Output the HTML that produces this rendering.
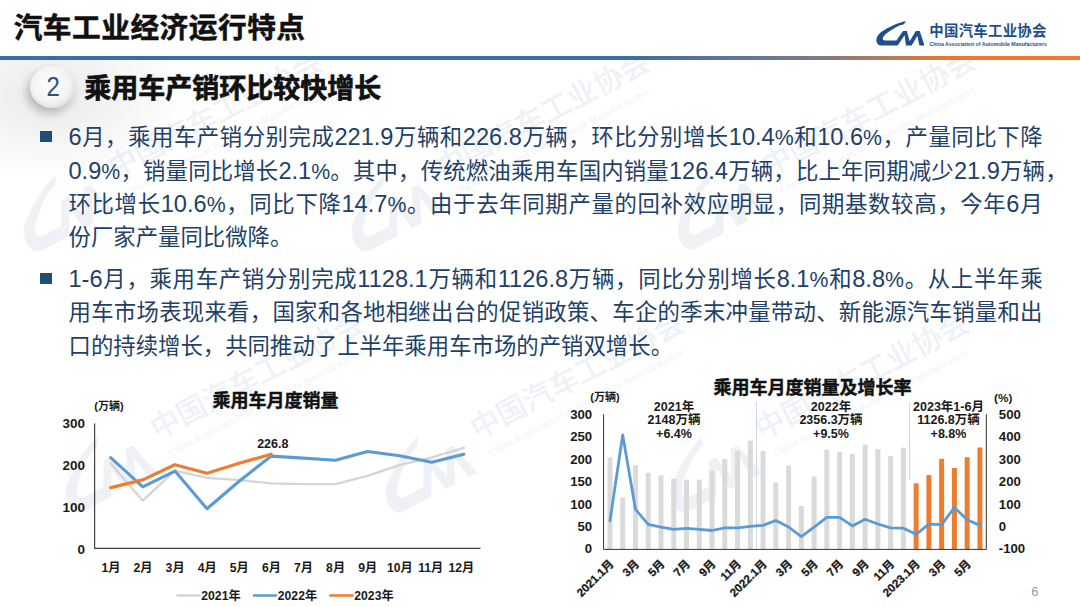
<!DOCTYPE html>
<html lang="zh-CN">
<head>
<meta charset="utf-8">
<title>汽车工业经济运行特点</title>
<style>
html,body{margin:0;padding:0;background:#fff;}
body{width:1080px;height:607px;overflow:hidden;position:relative;font-family:"Liberation Sans", "Noto Sans CJK SC", sans-serif;}
#slide{position:absolute;left:0;top:0;width:1080px;height:607px;overflow:hidden;background:#fff;}
.title{position:absolute;left:13.7px;top:7.4px;font-size:28.7px;font-weight:700;color:#111;line-height:42px;white-space:nowrap;letter-spacing:.5px;-webkit-text-stroke:.5px #111;}
.rule{position:absolute;left:0;top:56.3px;width:1080px;height:3.5px;background:linear-gradient(90deg,#3a6ea8 0%,#3a6ea8 58%,#7c7c84 76%,#e87a2e 88%,#ee7d2c 100%);}
.shade{position:absolute;left:-40px;top:60px;width:230px;height:120px;background:radial-gradient(ellipse at 40% 30%,rgba(120,120,120,.16),rgba(255,255,255,0) 70%);}
.ball{position:absolute;left:29.8px;top:66px;width:45px;height:42.4px;border-radius:50%;background:radial-gradient(ellipse at 46% 42%,#fefefe 0%,#f5f5f5 48%,#e9e9e9 82%,#dadada 100%);box-shadow:-3px 5px 10px rgba(0,0,0,.24), inset -1px -2px 4px rgba(0,0,0,.07);}
.ball span{position:absolute;left:-.3px;top:-1.2px;width:46.4px;height:42.4px;line-height:42.4px;text-align:center;font-size:28.5px;color:#2f5080;font-weight:400;transform:scaleX(.84);transform-origin:50% 50%;}
.sub{position:absolute;left:84.2px;top:70.2px;-webkit-text-stroke:.7px #111;font-size:27px;font-weight:700;color:#111;line-height:38px;white-space:nowrap;}
.bul{position:absolute;left:40px;width:12px;height:11px;background:#1f4e79;}
.ln{position:absolute;left:68.5px;width:974px;height:34px;line-height:34px;font-size:22.4px;color:#223f67;white-space:nowrap;text-align:justify;text-align-last:justify;}
.ln .n{font-size:23.6px;letter-spacing:0;}
.ln .n i{font-style:normal;font-size:21.3px;}
.ln.last{width:auto;text-align:left;text-align-last:left;}
.logo{position:absolute;left:875.5px;top:21px;width:48.5px;height:25px;}
.logo svg{width:100%;height:100%;display:block;}
.lcn{position:absolute;left:929.3px;top:21.2px;letter-spacing:.28px;font-size:14.4px;font-weight:700;color:#1f4e8c;line-height:20px;white-space:nowrap;}
.len{position:absolute;left:929.5px;top:40.5px;font-size:5.15px;font-weight:700;color:#1f4e8c;line-height:7px;white-space:nowrap;transform-origin:0 0;}
.wm{position:absolute;width:360px;height:60px;transform:rotate(-27.8deg);transform-origin:123.8px 20.2px;opacity:.125;color:#7f97bd;white-space:nowrap;}
.wmbox{position:absolute;left:0;top:60px;width:1080px;height:547px;overflow:hidden;}
.wml{position:absolute;left:1px;top:1px;width:94px;height:61px;}
.wml svg{width:100%;height:100%;display:block;}
.wmt b{position:absolute;left:110px;top:3.5px;font-size:29.6px;line-height:36px;font-weight:500;}
.wmt i{position:absolute;left:114px;top:43px;font-style:normal;font-size:9.6px;line-height:14px;font-weight:700;opacity:.7;}
.charts{position:absolute;left:0;top:0;}
.pg{position:absolute;left:1031.3px;top:584.2px;font-size:13px;color:#9a9a9a;line-height:16px;}
</style>
</head>
<body>
<div id="slide">
<div class="shade"></div>
<div class="wmbox"><div class="wm" style="left:-1.8px;top:81.8px"><span class="wml"><svg viewBox="0 0 100 50" preserveAspectRatio="none"><path fill="#8595ad" d="M61.5 0 C47 3.2 27 11.2 10 22.7 C3 28 -1 36 1.5 42.5 C3 46.5 6 49 10 49 L44.7 49 L59 28.7 L61.7 49 L73.5 49 L85.4 29.4 L89.4 49 L100 49 L90.1 19.9 L82 19.9 L69.4 40.6 L63.7 19.9 L55.6 19.9 L42 38.9 L19 38.9 C15 38.9 13 36.5 14.5 33.5 C17 27.5 25 21.5 42 12 C48 9 53 7.6 57.6 6.6 Z"/></svg></span><span class="wmt"><b>中国汽车工业协会</b><i>China Association of Automobile Manufacturers</i></span></div><div class="wm" style="left:326.2px;top:81.8px"><span class="wml"><svg viewBox="0 0 100 50" preserveAspectRatio="none"><path fill="#8595ad" d="M61.5 0 C47 3.2 27 11.2 10 22.7 C3 28 -1 36 1.5 42.5 C3 46.5 6 49 10 49 L44.7 49 L59 28.7 L61.7 49 L73.5 49 L85.4 29.4 L89.4 49 L100 49 L90.1 19.9 L82 19.9 L69.4 40.6 L63.7 19.9 L55.6 19.9 L42 38.9 L19 38.9 C15 38.9 13 36.5 14.5 33.5 C17 27.5 25 21.5 42 12 C48 9 53 7.6 57.6 6.6 Z"/></svg></span><span class="wmt"><b>中国汽车工业协会</b><i>China Association of Automobile Manufacturers</i></span></div><div class="wm" style="left:652.2px;top:79.8px"><span class="wml"><svg viewBox="0 0 100 50" preserveAspectRatio="none"><path fill="#8595ad" d="M61.5 0 C47 3.2 27 11.2 10 22.7 C3 28 -1 36 1.5 42.5 C3 46.5 6 49 10 49 L44.7 49 L59 28.7 L61.7 49 L73.5 49 L85.4 29.4 L89.4 49 L100 49 L90.1 19.9 L82 19.9 L69.4 40.6 L63.7 19.9 L55.6 19.9 L42 38.9 L19 38.9 C15 38.9 13 36.5 14.5 33.5 C17 27.5 25 21.5 42 12 C48 9 53 7.6 57.6 6.6 Z"/></svg></span><span class="wmt"><b>中国汽车工业协会</b><i>China Association of Automobile Manufacturers</i></span></div><div class="wm" style="left:40.2px;top:343.3px"><span class="wml"><svg viewBox="0 0 100 50" preserveAspectRatio="none"><path fill="#8595ad" d="M61.5 0 C47 3.2 27 11.2 10 22.7 C3 28 -1 36 1.5 42.5 C3 46.5 6 49 10 49 L44.7 49 L59 28.7 L61.7 49 L73.5 49 L85.4 29.4 L89.4 49 L100 49 L90.1 19.9 L82 19.9 L69.4 40.6 L63.7 19.9 L55.6 19.9 L42 38.9 L19 38.9 C15 38.9 13 36.5 14.5 33.5 C17 27.5 25 21.5 42 12 C48 9 53 7.6 57.6 6.6 Z"/></svg></span><span class="wmt"><b>中国汽车工业协会</b><i>China Association of Automobile Manufacturers</i></span></div><div class="wm" style="left:360.2px;top:343.3px"><span class="wml"><svg viewBox="0 0 100 50" preserveAspectRatio="none"><path fill="#8595ad" d="M61.5 0 C47 3.2 27 11.2 10 22.7 C3 28 -1 36 1.5 42.5 C3 46.5 6 49 10 49 L44.7 49 L59 28.7 L61.7 49 L73.5 49 L85.4 29.4 L89.4 49 L100 49 L90.1 19.9 L82 19.9 L69.4 40.6 L63.7 19.9 L55.6 19.9 L42 38.9 L19 38.9 C15 38.9 13 36.5 14.5 33.5 C17 27.5 25 21.5 42 12 C48 9 53 7.6 57.6 6.6 Z"/></svg></span><span class="wmt"><b>中国汽车工业协会</b><i>China Association of Automobile Manufacturers</i></span></div><div class="wm" style="left:645.2px;top:343.3px"><span class="wml"><svg viewBox="0 0 100 50" preserveAspectRatio="none"><path fill="#8595ad" d="M61.5 0 C47 3.2 27 11.2 10 22.7 C3 28 -1 36 1.5 42.5 C3 46.5 6 49 10 49 L44.7 49 L59 28.7 L61.7 49 L73.5 49 L85.4 29.4 L89.4 49 L100 49 L90.1 19.9 L82 19.9 L69.4 40.6 L63.7 19.9 L55.6 19.9 L42 38.9 L19 38.9 C15 38.9 13 36.5 14.5 33.5 C17 27.5 25 21.5 42 12 C48 9 53 7.6 57.6 6.6 Z"/></svg></span><span class="wmt"><b>中国汽车工业协会</b><i>China Association of Automobile Manufacturers</i></span></div></div>
<div class="title">汽车工业经济运行特点</div>
<div class="rule"></div>
<div class="logo"><svg viewBox="0 0 100 50" preserveAspectRatio="none"><path fill="#1f4e8c" d="M61.5 0 C47 3.2 27 11.2 10 22.7 C3 28 -1 36 1.5 42.5 C3 46.5 6 49 10 49 L44.7 49 L59 28.7 L61.7 49 L73.5 49 L85.4 29.4 L89.4 49 L100 49 L90.1 19.9 L82 19.9 L69.4 40.6 L63.7 19.9 L55.6 19.9 L42 38.9 L19 38.9 C15 38.9 13 36.5 14.5 33.5 C17 27.5 25 21.5 42 12 C48 9 53 7.6 57.6 6.6 Z"/></svg></div>
<div class="lcn">中国汽车工业协会</div>
<div class="len">China Association of Automobile Manufacturers</div>
<div class="ball"><span>2</span></div>
<div class="sub">乘用车产销环比较快增长</div>
<div class="bul" style="top:131px"></div>
<div class="ln" style="top:119.9px"><span class="n">6</span>月，乘用车产销分别完成<span class="n">221.9</span>万辆和<span class="n">226.8</span>万辆，环比分别增长<span class="n">10.4<i>%</i></span>和<span class="n">10.6<i>%</i></span>，产量同比下降</div>
<div class="ln" style="top:153.6px;width:999px"><span class="n">0.9<i>%</i></span>，销量同比增长<span class="n">2.1<i>%</i></span>。其中，传统燃油乘用车国内销量<span class="n">126.4</span>万辆，比上年同期减少<span class="n">21.9</span>万辆，</div>
<div class="ln" style="top:187.4px">环比增长<span class="n">10.6<i>%</i></span>，同比下降<span class="n">14.7<i>%</i></span>。由于去年同期产量的回补效应明显，同期基数较高，今年<span class="n">6</span>月</div>
<div class="ln last" style="top:220.9px">份厂家产量同比微降。</div>
<div class="bul" style="top:273px"></div>
<div class="ln" style="top:262.4px"><span class="n">1-6</span>月，乘用车产销分别完成<span class="n">1128.1</span>万辆和<span class="n">1126.8</span>万辆，同比分别增长<span class="n">8.1<i>%</i></span>和<span class="n">8.8<i>%</i></span>。从上半年乘</div>
<div class="ln" style="top:296.3px">用车市场表现来看，国家和各地相继出台的促销政策、车企的季末冲量带动、新能源汽车销量和出</div>
<div class="ln last" style="top:329.7px">口的持续增长，共同推动了上半年乘用车市场的产销双增长。</div>
<svg class="charts" width="1080" height="607" viewBox="0 0 1080 607" font-family='&quot;Liberation Sans&quot;, &quot;Noto Sans CJK SC&quot;, sans-serif' font-weight="700" fill="#1a1a1a">
<polyline points="110.7,463.5 142.8,500.7 174.9,470.7 207.0,477.8 239.1,480.2 271.2,483.4 303.3,484.2 335.4,484.1 367.5,475.8 399.6,465.1 431.7,457.4 463.8,447.8" fill="none" stroke="#d5d5d5" stroke-width="2.3" stroke-linejoin="round" stroke-linecap="round"/>
<polyline points="110.7,457.6 142.8,486.8 174.9,471.1 207.0,508.7 239.1,481.2 271.2,456.1 303.3,458.1 335.4,460.2 367.5,451.5 399.6,455.7 431.7,462.3 463.8,454.3" fill="none" stroke="#5b9bd5" stroke-width="3.1" stroke-linejoin="round" stroke-linecap="round"/>
<polyline points="110.7,487.6 142.8,479.9 174.9,464.7 207.0,473.3 239.1,463.3 271.2,454.2" fill="none" stroke="#ed7d31" stroke-width="3.2" stroke-linejoin="round" stroke-linecap="round"/>
<path d="M94.6 423.6 V548.4 H480.5" fill="none" stroke="#404040" stroke-width="1.2"/>
<text x="85" y="553.8" font-size="13.5" text-anchor="end">0</text>
<text x="85" y="512.0" font-size="13.5" text-anchor="end">100</text>
<text x="85" y="470.2" font-size="13.5" text-anchor="end">200</text>
<text x="85" y="428.4" font-size="13.5" text-anchor="end">300</text>
<text x="110.9" y="571.6" font-size="12.2" text-anchor="middle">1月</text>
<text x="143.0" y="571.6" font-size="12.2" text-anchor="middle">2月</text>
<text x="175.1" y="571.6" font-size="12.2" text-anchor="middle">3月</text>
<text x="207.2" y="571.6" font-size="12.2" text-anchor="middle">4月</text>
<text x="239.3" y="571.6" font-size="12.2" text-anchor="middle">5月</text>
<text x="271.4" y="571.6" font-size="12.2" text-anchor="middle">6月</text>
<text x="303.5" y="571.6" font-size="12.2" text-anchor="middle">7月</text>
<text x="335.6" y="571.6" font-size="12.2" text-anchor="middle">8月</text>
<text x="367.7" y="571.6" font-size="12.2" text-anchor="middle">9月</text>
<text x="399.8" y="571.6" font-size="12.2" text-anchor="middle">10月</text>
<text x="430.7" y="571.6" font-size="12.2" text-anchor="middle">11月</text>
<text x="461.3" y="571.6" font-size="12.2" text-anchor="middle">12月</text>
<text x="109" y="410" font-size="11" text-anchor="middle">(万辆)</text>
<text x="275.6" y="406.5" font-size="18" text-anchor="middle" fill="#111" stroke="#111" stroke-width=".45">乘用车月度销量</text>
<text x="272.8" y="447.8" font-size="12.5" text-anchor="middle">226.8</text>
<line x1="177.5" y1="595.5" x2="199.5" y2="595.5" stroke="#d4d4d4" stroke-width="2.6" stroke-linecap="round"/>
<text x="201.3" y="600" font-size="12.2">2021年</text>
<line x1="254.0" y1="595.5" x2="276.0" y2="595.5" stroke="#5b9bd5" stroke-width="2.6" stroke-linecap="round"/>
<text x="277.8" y="600" font-size="12.2">2022年</text>
<line x1="330.5" y1="595.5" x2="352.5" y2="595.5" stroke="#ed7d31" stroke-width="2.6" stroke-linecap="round"/>
<text x="354.3" y="600" font-size="12.2">2023年</text>
<rect x="607.48" y="457.52" width="5" height="91.68" fill="#dadada"/>
<rect x="620.24" y="497.37" width="5" height="51.83" fill="#dadada"/>
<rect x="632.99" y="465.18" width="5" height="84.02" fill="#dadada"/>
<rect x="645.75" y="472.80" width="5" height="76.40" fill="#dadada"/>
<rect x="658.50" y="475.40" width="5" height="73.80" fill="#dadada"/>
<rect x="671.26" y="478.86" width="5" height="70.34" fill="#dadada"/>
<rect x="684.02" y="479.66" width="5" height="69.54" fill="#dadada"/>
<rect x="696.77" y="479.62" width="5" height="69.58" fill="#dadada"/>
<rect x="709.53" y="470.70" width="5" height="78.50" fill="#dadada"/>
<rect x="722.29" y="459.22" width="5" height="89.98" fill="#dadada"/>
<rect x="735.04" y="450.93" width="5" height="98.27" fill="#dadada"/>
<rect x="747.80" y="440.61" width="5" height="108.59" fill="#dadada"/>
<rect x="760.56" y="451.19" width="5" height="98.01" fill="#dadada"/>
<rect x="773.32" y="482.53" width="5" height="66.67" fill="#dadada"/>
<rect x="786.07" y="465.63" width="5" height="83.57" fill="#dadada"/>
<rect x="798.83" y="505.94" width="5" height="43.26" fill="#dadada"/>
<rect x="811.59" y="476.44" width="5" height="72.76" fill="#dadada"/>
<rect x="824.34" y="449.58" width="5" height="99.62" fill="#dadada"/>
<rect x="837.10" y="451.73" width="5" height="97.47" fill="#dadada"/>
<rect x="849.86" y="453.93" width="5" height="95.27" fill="#dadada"/>
<rect x="862.61" y="444.65" width="5" height="104.55" fill="#dadada"/>
<rect x="875.37" y="449.18" width="5" height="100.02" fill="#dadada"/>
<rect x="888.12" y="456.17" width="5" height="93.03" fill="#dadada"/>
<rect x="900.88" y="447.65" width="5" height="101.55" fill="#dadada"/>
<rect x="913.64" y="483.34" width="5" height="65.86" fill="#ed7d31"/>
<rect x="926.39" y="475.09" width="5" height="74.11" fill="#ed7d31"/>
<rect x="939.15" y="458.77" width="5" height="90.43" fill="#ed7d31"/>
<rect x="951.91" y="468.01" width="5" height="81.19" fill="#ed7d31"/>
<rect x="964.66" y="457.25" width="5" height="91.95" fill="#ed7d31"/>
<rect x="977.42" y="447.52" width="5" height="101.68" fill="#ed7d31"/>
<line x1="756.5" y1="402" x2="756.5" y2="549" stroke="#b4c8e2" stroke-width="0.7"/>
<line x1="909.6" y1="402" x2="909.6" y2="480" stroke="#b4c8e2" stroke-width="0.7"/>
<path d="M603.6 414.2 V549.4 H986.3 V414.2" fill="none" stroke="#333" stroke-width="1"/>
<polyline points="610.0,520.8 622.7,434.9 635.5,509.4 648.2,524.4 661.0,527.2 673.8,529.3 686.5,528.4 699.3,529.4 712.0,530.5 724.8,527.9 737.5,527.8 750.3,526.3 763.1,525.4 775.8,520.5 788.6,527.0 801.3,536.6 814.1,527.1 826.8,517.4 839.6,517.4 852.4,525.9 865.1,519.2 877.9,524.0 890.6,527.8 903.4,528.2 916.1,534.3 928.9,524.1 941.7,524.6 954.4,507.5 967.2,519.8 979.9,525.4" fill="none" stroke="#5b9bd5" stroke-width="2.8" stroke-linejoin="round" stroke-linecap="round"/>
<text x="592.2" y="553.4" font-size="13.2" text-anchor="end">0</text>
<text x="592.2" y="531.0" font-size="13.2" text-anchor="end">50</text>
<text x="592.2" y="508.6" font-size="13.2" text-anchor="end">100</text>
<text x="592.2" y="486.2" font-size="13.2" text-anchor="end">150</text>
<text x="592.2" y="463.7" font-size="13.2" text-anchor="end">200</text>
<text x="592.2" y="441.3" font-size="13.2" text-anchor="end">250</text>
<text x="592.2" y="418.9" font-size="13.2" text-anchor="end">300</text>
<text x="998.8" y="553.4" font-size="13.2">-100</text>
<text x="998.8" y="531.0" font-size="13.2">0</text>
<text x="998.8" y="508.6" font-size="13.2">100</text>
<text x="998.8" y="486.2" font-size="13.2">200</text>
<text x="998.8" y="463.7" font-size="13.2">300</text>
<text x="998.8" y="441.3" font-size="13.2">400</text>
<text x="998.8" y="418.9" font-size="13.2">500</text>
<text x="605" y="400.5" font-size="11" text-anchor="middle">(万辆)</text>
<text x="1003.3" y="401.8" font-size="11.8" text-anchor="middle">(%)</text>
<text x="812.5" y="394.2" font-size="18" text-anchor="middle" fill="#111" stroke="#111" stroke-width=".45">乘用车月度销量及增长率</text>
<text x="674.0" y="410.5" font-size="12.5" text-anchor="middle">2021年</text>
<text x="674.0" y="424.3" font-size="12.5" text-anchor="middle">2148万辆</text>
<text x="674.0" y="438.1" font-size="12.5" text-anchor="middle">+6.4%</text>
<text x="831.0" y="410.5" font-size="12.5" text-anchor="middle">2022年</text>
<text x="831.0" y="424.3" font-size="12.5" text-anchor="middle">2356.3万辆</text>
<text x="831.0" y="438.1" font-size="12.5" text-anchor="middle">+9.5%</text>
<text x="948.5" y="410.5" font-size="12.5" text-anchor="middle">2023年1-6月</text>
<text x="948.5" y="424.3" font-size="12.5" text-anchor="middle">1126.8万辆</text>
<text x="948.5" y="438.1" font-size="12.5" text-anchor="middle">+8.8%</text>
<text transform="translate(614.5 564.5) rotate(-45)" font-size="11.5" text-anchor="end" stroke="#1a1a1a" stroke-width=".3">2021.1月</text>
<text transform="translate(640.0 564.5) rotate(-45)" font-size="11.5" text-anchor="end" stroke="#1a1a1a" stroke-width=".3">3月</text>
<text transform="translate(665.5 564.5) rotate(-45)" font-size="11.5" text-anchor="end" stroke="#1a1a1a" stroke-width=".3">5月</text>
<text transform="translate(691.0 564.5) rotate(-45)" font-size="11.5" text-anchor="end" stroke="#1a1a1a" stroke-width=".3">7月</text>
<text transform="translate(716.5 564.5) rotate(-45)" font-size="11.5" text-anchor="end" stroke="#1a1a1a" stroke-width=".3">9月</text>
<text transform="translate(742.0 564.5) rotate(-45)" font-size="11.5" text-anchor="end" stroke="#1a1a1a" stroke-width=".3">11月</text>
<text transform="translate(767.6 564.5) rotate(-45)" font-size="11.5" text-anchor="end" stroke="#1a1a1a" stroke-width=".3">2022.1月</text>
<text transform="translate(793.1 564.5) rotate(-45)" font-size="11.5" text-anchor="end" stroke="#1a1a1a" stroke-width=".3">3月</text>
<text transform="translate(818.6 564.5) rotate(-45)" font-size="11.5" text-anchor="end" stroke="#1a1a1a" stroke-width=".3">5月</text>
<text transform="translate(844.1 564.5) rotate(-45)" font-size="11.5" text-anchor="end" stroke="#1a1a1a" stroke-width=".3">7月</text>
<text transform="translate(869.6 564.5) rotate(-45)" font-size="11.5" text-anchor="end" stroke="#1a1a1a" stroke-width=".3">9月</text>
<text transform="translate(895.1 564.5) rotate(-45)" font-size="11.5" text-anchor="end" stroke="#1a1a1a" stroke-width=".3">11月</text>
<text transform="translate(920.6 564.5) rotate(-45)" font-size="11.5" text-anchor="end" stroke="#1a1a1a" stroke-width=".3">2023.1月</text>
<text transform="translate(946.2 564.5) rotate(-45)" font-size="11.5" text-anchor="end" stroke="#1a1a1a" stroke-width=".3">3月</text>
<text transform="translate(971.7 564.5) rotate(-45)" font-size="11.5" text-anchor="end" stroke="#1a1a1a" stroke-width=".3">5月</text>
</svg>
<div class="pg">6</div>
</div>
</body>
</html>
